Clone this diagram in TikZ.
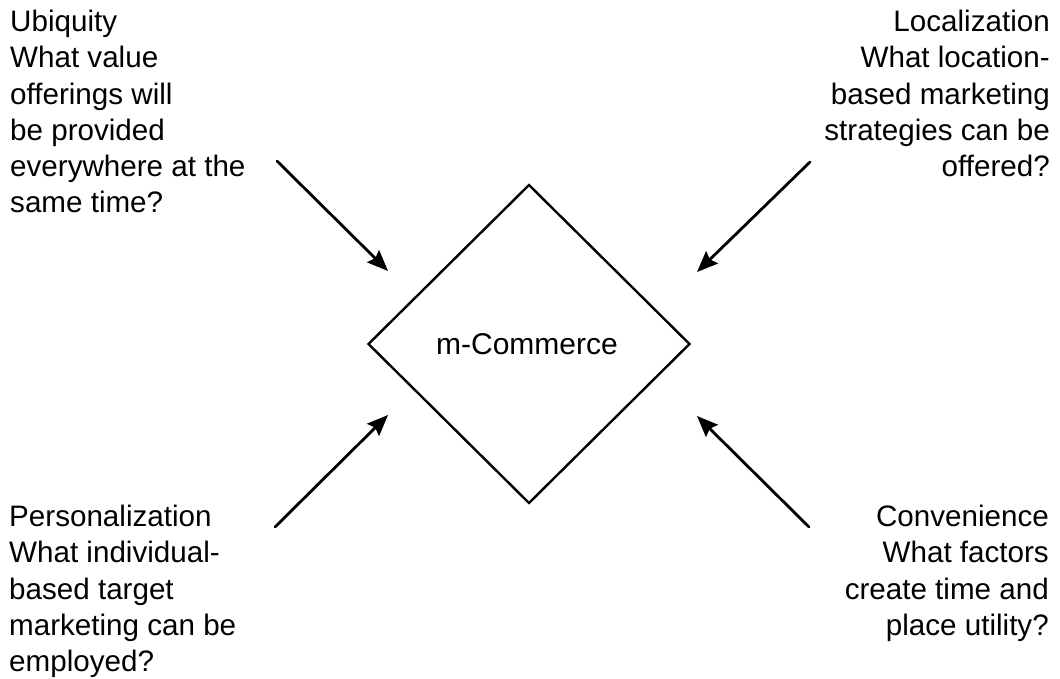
\documentclass[tikz,border=0pt]{standalone}
\usepackage{fontspec}
\setmainfont{Liberation Sans}
\usetikzlibrary{shapes.geometric,arrows.meta}
\begin{document}
\begin{tikzpicture}[x=1pt,y=-1pt,
  txt/.style={inner sep=0pt,font=\fontsize{29.6}{36.2}\selectfont},
  conn/.style={line width=2.8pt,line cap=round,-{Stealth[length=21pt,width=17pt,inset=3pt]}},
  hub/.style={draw,line width=2.4pt,shape=diamond,aspect=1,inner sep=0pt,minimum width=322pt,minimum height=319pt}]
\useasboundingbox (0,0) rectangle (1060,679);
\node[hub] (mc) at (529,344) {};
\node[txt,font=\fontsize{30}{36}\selectfont] (mctext) at (527,344) {m-Commerce};
\node[txt,anchor=north west,align=left] (ubi) at (10,10) {Ubiquity\\What value\\offerings will\\be provided\\everywhere at the\\same time?};
\node[txt,anchor=north east,align=right] (loc) at (1050,10) {Localization\\What location-\\based marketing\\strategies can be\\offered?};
\node[txt,anchor=north west,align=left] (per) at (9,505) {Personalization\\What individual-\\based target\\marketing can be\\employed?};
\node[txt,anchor=north east,align=right] (con) at (1049,505) {Convenience\\What factors\\create time and\\place utility?};
\coordinate (a1s) at (277,161); \coordinate (a1e) at (388,271);
\coordinate (a2s) at (810,162); \coordinate (a2e) at (697,272);
\coordinate (a3s) at (275,527); \coordinate (a3e) at (388,415);
\coordinate (a4s) at (809,527); \coordinate (a4e) at (697,416);
\draw[conn] (a1s) -- (a1e);
\draw[conn] (a2s) -- (a2e);
\draw[conn] (a3s) -- (a3e);
\draw[conn] (a4s) -- (a4e);
\end{tikzpicture}
\end{document}
